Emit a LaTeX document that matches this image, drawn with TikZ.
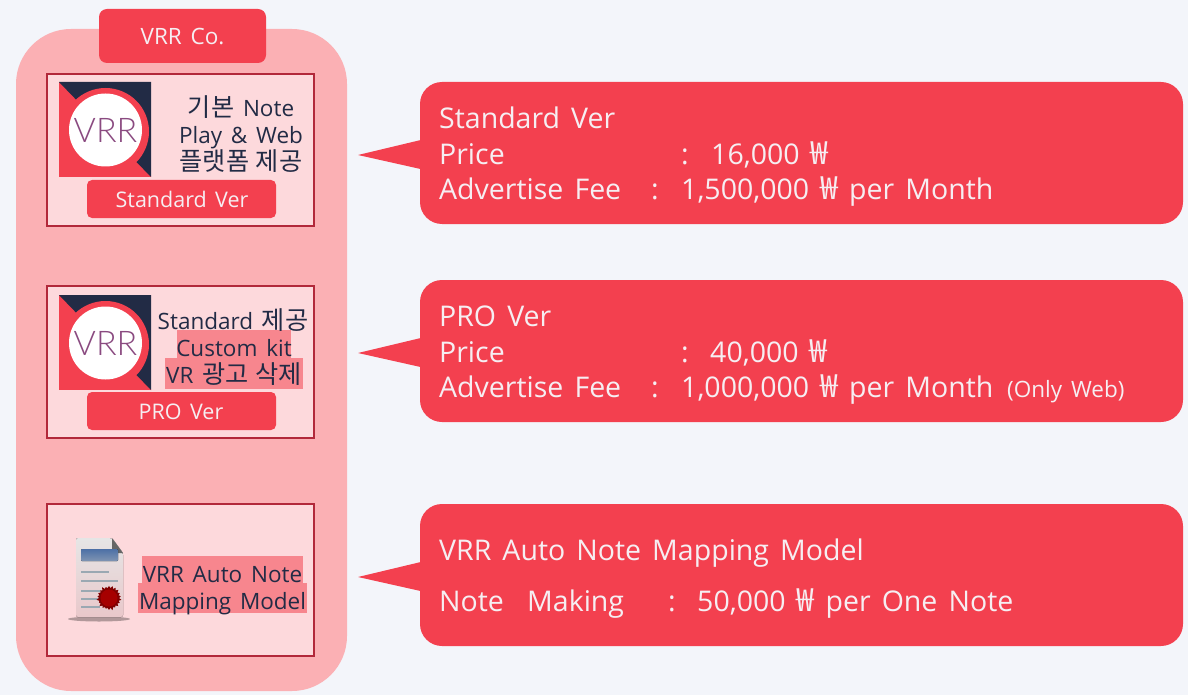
\documentclass[tikz,border=0pt]{standalone}
\usepackage{fontspec}
\setmainfont[WordSpace=1.5]{Open Sans}
\newfontfamily\krfont[Scale=1.12,WordSpace=1.2]{Noto Sans CJK KR}
\newfontfamily\logofont{Lato Light}
\usetikzlibrary{shapes.geometric,shapes.symbols}
\definecolor{pagebg}{HTML}{F3F5FA}
\definecolor{vrrred}{HTML}{F3404F}
\definecolor{vrrpink}{HTML}{FBB0B4}
\definecolor{vrrpale}{HTML}{FDD9DC}
\definecolor{vrrdark}{HTML}{B2283A}
\definecolor{vrrnavy}{HTML}{222B45}
\definecolor{vrrmark}{HTML}{F7868E}
\definecolor{vrrtext}{HTML}{F6EEF2}
\definecolor{vrrlogotext}{HTML}{8A4A80}
\definecolor{sheetgrey}{HTML}{9AA8B2}
\newcommand{\won}{{\krfont ₩}}
\tikzset{
	panel/.style = {draw=vrrdark, line width=2pt, fill=vrrpale},
	badge/.style = {fill=vrrred, rounded corners=#1},
	badge/.default = 5pt,
	bubble/.style = {fill=vrrred, rounded corners=22pt},
	badgetext/.style = {text=vrrtext, font=\fontsize{21.5}{26}\selectfont},
	bigtext/.style = {text=vrrtext, anchor=base west, inner sep=0pt, font=\fontsize{28.5}{33}\selectfont},
	smalltext/.style = {text=vrrtext, anchor=base west, inner sep=0pt, font=\fontsize{22.5}{25}\selectfont},
	sidetext/.style = {text=vrrnavy, anchor=base, inner sep=0pt, font=\fontsize{22.5}{27}\selectfont},
	marktext/.style = {fill=vrrmark},
	sheetline/.style = {draw=sheetgrey, line width=2pt}
}
% logo with its top left corner at #1, name #2
\newcommand{\vrrlogo}[2]{
	\begin{scope}[shift={#1}]
		\fill[vrrred] (0,0) rectangle (92,95);
		\fill[vrrnavy] (0,0) -- (92,0) -- (92,95) -- cycle;
		\fill[vrrred] (46.5,49.5) circle (43.5);
		\fill[white] (46.5,48) circle (36.5);
		\node[text=vrrlogotext, font=\logofont\fontsize{34}{38}\selectfont] (#2) at (46.5,48.5) {VRR};
	\end{scope}
}
% speech bubble, top at y=#1
\newcommand{\vrrbubble}[1]{
	\begin{scope}[shift={(0,#1)}]
		\fill[vrrred] (358,73) -- (425,57) -- (425,88) -- cycle;
		\fill[bubble] (420,0) rectangle (1183,142);
	\end{scope}
}
\begin{document}
\begin{tikzpicture}[x=1pt, y=-1pt]
	\useasboundingbox (0,0) rectangle (1188,695);
	\fill[pagebg] (0,0) rectangle (1188,695);
	\fill[vrrpink, rounded corners=55pt] (16,29) rectangle (347,691);
	\fill[badge=8pt] (99,9) rectangle (266,63);
	\node[badgetext, font=\fontsize{22.5}{26}\selectfont] (company) at (182.5,36.5) {VRR Co.};

	% Standard
	\draw[panel] (47,74) rectangle (314,226);
	\vrrlogo{(59,82)}{logostd}
	\node[sidetext] (stda) at (241,117) {{\krfont 기본} Note};
	\node[sidetext] (stdb) at (241,144) {Play \& Web};
	\node[sidetext] (stdc) at (241,171) {\krfont 플랫폼 제공};
	\fill[badge] (87,180) rectangle (276,218);
	\node[badgetext] (stdbadge) at (182,199.5) {Standard Ver};

	% Pro
	\draw[panel] (47,286) rectangle (314,438);
	\vrrlogo{(59,295)}{logopro}
	\fill[marktext] (177,330) rectangle (291,358);
	\fill[marktext] (165,358) rectangle (303,389);
	\node[sidetext] (proa) at (233,329) {Standard {\krfont 제공}};
	\node[sidetext] (prob) at (234,356) {Custom kit};
	\node[sidetext] (proc) at (234,383) {VR {\krfont 광고 삭제}};
	\fill[badge] (87,392) rectangle (276,430);
	\node[badgetext] (probadge) at (181,411.5) {PRO Ver};

	% Auto mapping
	\draw[panel] (47,504) rectangle (314,656);
	\fill[black!30!vrrpale] (99,619) ellipse (31 and 2.5);
	\fill[top color=white!90!black, bottom color=black!8!vrrpale, rounded corners=2pt]
		(76,538) -- (112,538) -- (123,553) -- (123,617) -- (76,617) -- cycle;
	\fill[black!60] (112,538) -- (123,553) -- (112,553) -- cycle;
	\fill[top color=cyan!40!blue!50!black!70, bottom color=cyan!40!blue!40!black!50, rounded corners=1pt] (81,549) rectangle (118,561);
	\draw[sheetline] (81,572) -- (109,572);
	\foreach \rowy/\rowx in {581/118, 591/100, 599/100, 607/100}
		\draw[sheetline] (81,\rowy) -- (\rowx,\rowy);
	\node[starburst, starburst points=22, starburst point height=3pt, fill=red!50!black, minimum size=26pt, inner sep=0pt] (sealout) at (109,598) {};
	\fill[red!65!black] (sealout.center) circle (8.5);
	\fill[vrrmark] (142,556) rectangle (303,583);
	\fill[vrrmark] (138,583) rectangle (307,613);
	\node[sidetext] (autoa) at (222.5,582) {VRR Auto Note};
	\node[sidetext] (autob) at (222.5,609) {Mapping Model};

	% bubbles
	\vrrbubble{82}
	\node[bigtext] (stdtitle) at (439,129) {Standard Ver};
	\node[bigtext] (stdprice) at (439,165) {Price};
	\node[bigtext] (stdcolon) at (681,165) {:};
	\node[bigtext] (stdwon) at (711,165) {16,000 \won};
	\node[bigtext] (stdfee) at (439,200) {Advertise Fee};
	\node[bigtext] (stdcolb) at (651,200) {:};
	\node[bigtext] (stdmonth) at (681,200) {1,500,000 \won{} per Month};

	\vrrbubble{280}
	\node[bigtext] (protitle) at (439,326) {PRO Ver};
	\node[bigtext] (proprice) at (439,362) {Price};
	\node[bigtext] (procolon) at (681,362) {:};
	\node[bigtext] (prowon) at (710,362) {40,000 \won};
	\node[bigtext] (profee) at (439,397) {Advertise Fee};
	\node[bigtext] (procolb) at (651,397) {:};
	\node[bigtext] (promonth) at (681,397) {1,000,000 \won{} per Month};
	\node[smalltext] (proweb) at (1007,397) {(Only Web)};

	\vrrbubble{504}
	\node[bigtext] (autotitle) at (439,560) {VRR Auto Note Mapping Model};
	\node[bigtext] (autonote) at (439,611) {Note};
	\node[bigtext] (automake) at (527,611) {Making};
	\node[bigtext] (autocolon) at (668,611) {:};
	\node[bigtext] (autowon) at (697,611) {50,000 \won{} per One Note};
\end{tikzpicture}
\end{document}
